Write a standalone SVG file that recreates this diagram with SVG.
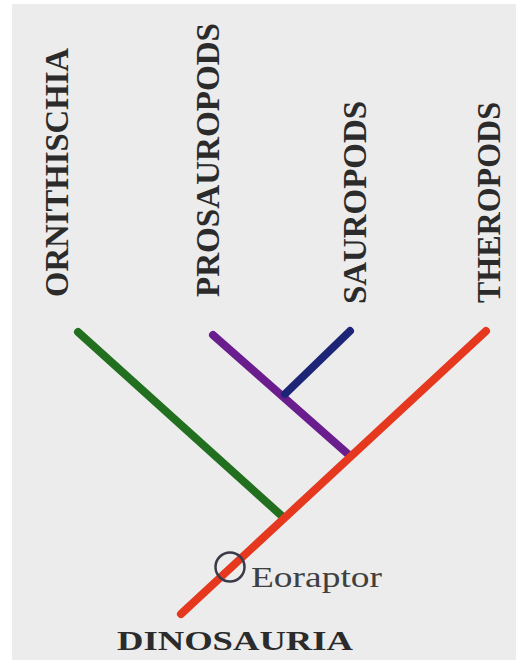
<svg xmlns="http://www.w3.org/2000/svg" width="516" height="660" viewBox="0 0 516 660">
<style>
.lbl{font-family:"Liberation Serif","Times New Roman",serif;font-size:33px;font-weight:bold;fill:#2b2b2b}
.br{fill:none;stroke-width:8;stroke-linecap:round}
.eo{font-family:"Liberation Serif","Times New Roman",serif;font-size:30px;fill:#404040}
.dino{font-family:"Liberation Serif","Times New Roman",serif;font-size:28px;font-weight:bold;fill:#2b2b2b}
</style>
<rect x="0" y="0" width="516" height="660" fill="#ffffff"/>
<rect x="12" y="4" width="504" height="656" fill="#ececec"/>
<g id="connectors">
<line class="br" x1="78" y1="332" x2="283" y2="517" stroke="#22701f"/>
<line class="br" x1="213" y1="335" x2="349" y2="455" stroke="#6a1e8e"/>
<line class="br" x1="350" y1="331" x2="285" y2="394" stroke="#1d2676"/>
<line class="br" x1="181" y1="614" x2="486" y2="331" stroke="#e5381f"/>
</g>
<g id="node-ornithischia"><text class="lbl" transform="translate(68,297) rotate(-90)" textLength="249" lengthAdjust="spacingAndGlyphs">ORNITHISCHIA</text></g>
<g id="node-prosauropods"><text class="lbl" transform="translate(219,297) rotate(-90)" textLength="274" lengthAdjust="spacingAndGlyphs">PROSAUROPODS</text></g>
<g id="node-sauropods"><text class="lbl" transform="translate(366,304) rotate(-90)" textLength="203" lengthAdjust="spacingAndGlyphs">SAUROPODS</text></g>
<g id="node-theropods"><text class="lbl" transform="translate(500,303) rotate(-90)" textLength="201" lengthAdjust="spacingAndGlyphs">THEROPODS</text></g>
<g id="node-eoraptor">
<circle cx="230" cy="567" r="14.5" fill="none" stroke="#3a3a48" stroke-width="2.5"/>
<text class="eo" x="251" y="587" textLength="131" lengthAdjust="spacingAndGlyphs">Eoraptor</text>
</g>
<g id="node-dinosauria"><text class="dino" x="117" y="650" textLength="236" lengthAdjust="spacingAndGlyphs">DINOSAURIA</text></g>
</svg>
